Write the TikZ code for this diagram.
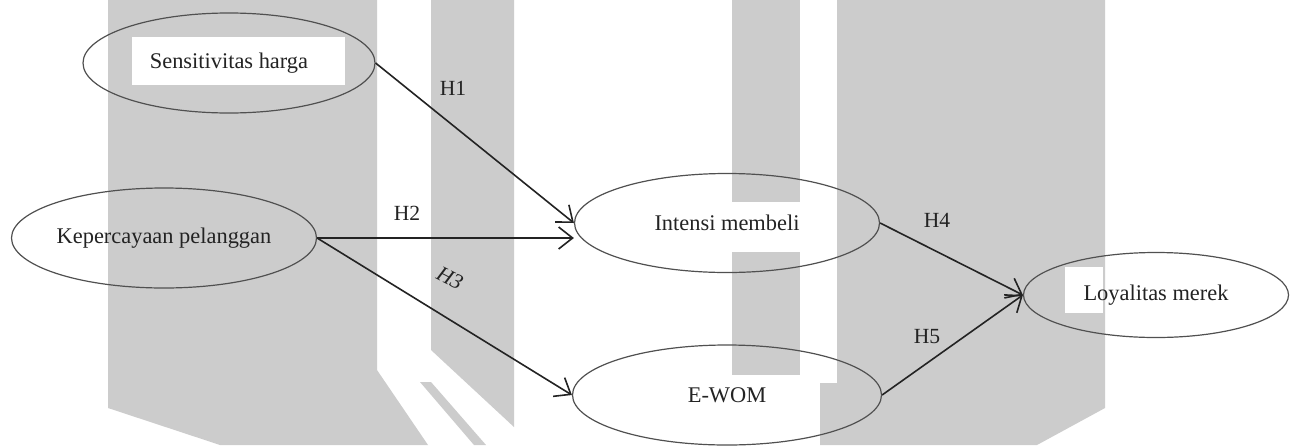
\documentclass[tikz,border=0pt]{standalone}
\usepackage{fontspec}
\setmainfont{Liberation Serif}
\usetikzlibrary{arrows.meta,shapes.geometric}
\definecolor{wm}{RGB}{204,204,204}
\definecolor{ink}{RGB}{35,35,35}
\definecolor{rim}{RGB}{80,80,80}
\tikzset{
  ell/.style={ellipse, draw=rim, line width=0.6pt, inner sep=0pt, text=ink,
              font=\fontsize{11.2}{13}\selectfont},
  link/.style={draw=ink, line width=0.8pt, -{Straight Barb[length=7pt,width=11pt,line width=0.8pt]}},
  hlabel/.style={text=ink, font=\fontsize{10.8}{13}\selectfont, inner sep=0pt},
  blank/.style={fill=white, draw=none}
}
\begin{document}
\begin{tikzpicture}[x=0.5pt,y=-0.5pt]
\useasboundingbox (0,0) rectangle (1294,445);
\fill[white] (0,0) rectangle (1294,445);
% watermark
\fill[wm] (108,0) -- (377,0) -- (377,370) -- (428,445) -- (220,445) -- (108,408) -- cycle;
\fill[wm] (431,0) -- (514,0) -- (514,427) -- (431,350) -- cycle;
\fill[wm] (420,382) -- (431,382) -- (486,445) -- (474,445) -- cycle;
\fill[wm] (732,0) rectangle (800,202);
\fill[wm] (732,252) rectangle (800,375);
\fill[wm] (837,0) -- (1105,0) -- (1105,408) -- (1037,445) -- (820,445) -- (820,383) -- (837,383) -- cycle;
% white patches behind texts
\fill[blank] (132,37) rectangle (345,85);
\fill[blank] (1065,267) rectangle (1103,313);
% nodes
\node[ell, minimum width=146pt, minimum height=50pt] (sh) at (229,63) {Sensitivitas harga};
\node[ell, minimum width=152.5pt, minimum height=50pt] (kp) at (164,238) {Kepercayaan pelanggan};
\node[ell, minimum width=152.5pt, minimum height=49.5pt] (im) at (727,223) {Intensi membeli};
\node[ell, minimum width=154.5pt, minimum height=50pt] (ew) at (727,395) {\raisebox{-2pt}{E-WOM}};
\node[ell, minimum width=132.5pt, minimum height=42.5pt] (ly) at (1156,295) {Loyalitas merek};
% connectors
\draw[link] (sh.east) -- (im.west);
\draw[link] (kp.east) -- (kp.east -| im.west);
\draw[link] (kp.east) -- (ew.west);
\draw[link] (im.east) -- (ly.west);
\draw[link] (ew.east) -- (ly.west);
% labels
\node[hlabel] (h1) at (453,88) {H1};
\node[hlabel] (h2) at (407,213) {H2};
\node[hlabel, rotate=-27] (h3) at (450,278) {\itshape H3};
\node[hlabel] (h4) at (937,220) {H4};
\node[hlabel] (h5) at (927,337) {H5};
\end{tikzpicture}
\end{document}
